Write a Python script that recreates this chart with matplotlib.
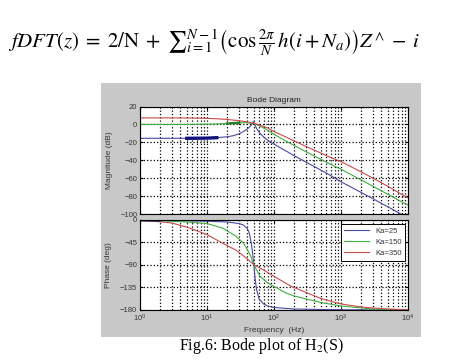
import numpy as np
import matplotlib
matplotlib.use('Agg')
import matplotlib.pyplot as plt
from matplotlib.patches import Rectangle

# magnitude (dB)
f_mag_25 = [1, 2, 5, 10, 14, 20, 25, 30, 35, 40, 43, 46, 48, 49, 50, 52, 55, 60, 70, 80,
            100, 150, 200, 300, 500, 700, 1000, 2000, 3000, 5000, 7000, 10000]
mag_25 = [-15.5, -15.5, -15.5, -15.3, -14.8, -13.8, -12.5, -10.5, -8, -5, -3, -0.5, 1.5, 3, 2.5,
          -1, -4.5, -9, -14, -17.5, -22, -29.5, -35, -42, -51, -57, -64, -76, -83, -92, -98, -104]

f_mag_150 = [1, 5, 10, 20, 30, 40, 50, 60, 70, 80, 100, 150, 200, 300, 500, 700,
             1000, 2000, 3000, 5000, 7000, 10000]
mag_150 = [0, 0, 0.3, 1, 1.8, 2, 1, -1.5, -4, -6.5, -11, -18.5, -23.5, -30.5, -39, -44.5,
           -50, -62, -69, -78, -84, -90]

f_mag_350 = [1, 5, 10, 15, 20, 30, 40, 50, 60, 70, 80, 100, 150, 200, 300, 500, 700,
             1000, 2000, 3000, 5000, 7000, 10000]
mag_350 = [7.3, 7.2, 6.8, 6.2, 5.5, 4.2, 2.8, 1.2, -0.5, -2.2, -4, -8, -14, -18.5, -24.5,
           -32, -37, -41.5, -53, -60, -69, -75.5, -82]

# phase (deg)
f_ph_25 = [1, 2, 5, 10, 20, 30, 35, 40, 43, 46, 48, 50, 52, 55, 60, 70, 80, 100, 200,
           500, 1000, 10000]
ph_25 = [-1, -1.5, -2.5, -3.5, -5, -8, -11, -18, -28, -48, -68, -90, -115, -140, -158,
         -168, -172, -175, -178, -179, -179.5, -180]

f_ph_150 = [1, 2, 5, 10, 17, 27, 35, 39, 45, 50, 62, 80, 100, 150, 200, 300, 500, 1000,
            2000, 3000, 5000, 10000]
ph_150 = [-1, -2.5, -5, -8, -17, -33, -47, -57, -73, -90, -113, -126, -133, -146, -152,
          -158, -165, -172, -176, -178, -179, -180]

f_ph_350 = [1, 2, 3, 5.5, 10, 17, 27, 39, 50, 69, 100, 175, 300, 500, 1000, 2000, 3000,
            5000, 10000]
ph_350 = [-2, -4.5, -7, -17, -30, -47, -61, -77, -90, -100, -113, -132, -145, -157, -168,
          -174, -176, -178, -179.5]

labels = ['Ka=25', 'Ka=150', 'Ka=350']
colors = ['#4a4aa0', '#3fae3f', '#c84a4a']

mag_ticks = [20, 0, -20, -40, -60, -80, -100]
ph_ticks = [0, -45, -90, -135, -180]

W, H = 457, 362


def fx(px):
    return px / W


def fy(py):
    return 1 - py / H


def style(ax):
    ax.set_xscale('log')
    ax.set_xlim(1, 1e4)
    ax.set_facecolor('white')
    ax.xaxis.grid(True, which='both', linestyle=':', color='k', linewidth=0.9)
    ax.yaxis.grid(True, which='major', linestyle=':', color='k', linewidth=0.9)
    ax.tick_params(which='both', direction='in', length=2, top=True, right=True,
                   labelsize=5.5, labelcolor='#333333', pad=2)
    ax.tick_params(which='minor', length=1)
    for s in ax.spines.values():
        s.set_linewidth(0.8)


def main():
    plt.rcParams['font.family'] = ['Liberation Sans', 'DejaVu Sans']
    plt.rcParams['mathtext.fontset'] = 'stix'

    fig = plt.figure(figsize=(W / 100, H / 100), dpi=100)
    fig.patch.set_facecolor('white')

    fig.add_artist(Rectangle((fx(101), fy(337)), fx(421) - fx(101), fy(83) - fy(337),
                             transform=fig.transFigure, facecolor='#c8c8c8',
                             edgecolor='none', zorder=0))

    fig.text(fx(214), fy(42),
             r'$fDFT(z)\;=\;2/\mathrm{N}\;+\;{\sum}_{i=1}^{N-1}\left(\cos\frac{2\pi}{N}\,h(i+N_a)\right)Z\,^{\wedge}\;-\;i$',
             fontsize=15, ha='center', va='center')

    ax1 = fig.add_axes([fx(140), fy(214), fx(408) - fx(140), fy(106.5) - fy(214)])
    ax2 = fig.add_axes([fx(140), fy(310), fx(408) - fx(140), fy(219.5) - fy(310)])

    # magnitude
    ax1.plot(f_mag_25, mag_25, color=colors[0], lw=0.8)
    ax1.plot(f_mag_150, mag_150, color=colors[1], lw=0.8)
    ax1.plot(f_mag_350, mag_350, color=colors[2], lw=0.8)
    ax1.plot(f_mag_25[2:5], mag_25[2:5], color='#10107a', lw=2.4)
    ax1.plot(f_mag_150[3:5], mag_150[3:5], color='#2a802a', lw=1.8)
    style(ax1)
    ax1.set_ylim(-100, 20)
    ax1.set_yticks(mag_ticks)
    ax1.tick_params(labelbottom=False)
    ax1.set_ylabel('Magnitude (dB)', fontsize=6, color='#333333', labelpad=5)
    ax1.set_title('Bode Diagram', fontsize=6, color='#222222', pad=3)

    # phase
    ax2.plot(f_ph_25, ph_25, color=colors[0], lw=0.8, label=labels[0])
    ax2.plot(f_ph_150, ph_150, color=colors[1], lw=0.8, label=labels[1])
    ax2.plot(f_ph_350, ph_350, color=colors[2], lw=0.8, label=labels[2])
    ax2.plot(f_ph_25[:2], ph_25[:2], color='#10107a', lw=2.0)
    style(ax2)
    ax2.set_ylim(-180, 0)
    ax2.set_yticks(ph_ticks)
    ax2.set_ylabel('Phase (deg)', fontsize=6, color='#333333', labelpad=6)
    ax2.set_xlabel('Frequency  (Hz)', fontsize=6, color='#333333', labelpad=2)

    leg = ax2.legend(loc='upper right', bbox_to_anchor=(0.99, 0.955), borderaxespad=0,
                     fontsize=5.5, fancybox=False, framealpha=1, edgecolor='k',
                     handlelength=3.2, labelspacing=0.5, borderpad=0.5)
    leg.get_frame().set_linewidth(0.7)
    for t in leg.get_texts():
        t.set_color('#333333')

    fig.text(fx(261), fy(346), 'Fig.6: Bode plot of H$_2$(S)', fontsize=11.5,
             family='Liberation Serif', ha='center', va='center')

    fig.savefig('out.png', dpi=100)


if __name__ == '__main__':
    main()
